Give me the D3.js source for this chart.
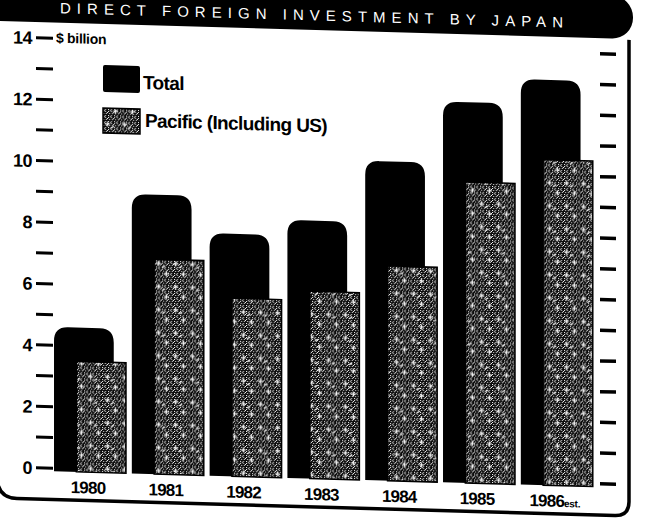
<!DOCTYPE html>
<html><head><meta charset="utf-8">
<script src="https://cdn.jsdelivr.net/npm/d3@7"></script>
<style>html,body{margin:0;padding:0;background:#fff;} svg{display:block}</style>
</head><body>
<svg id="chart" width="672" height="518"></svg>
<script>
// ---- data ----
const years = ["1980", "1981", "1982", "1983", "1984", "1985", "1986"];
const yearSuffix = ["", "", "", "", "", "", "est."];
const totalValues = [4.6, 9.0, 7.8, 8.3, 10.3, 12.3, 13.1];
const pacificValues = [3.5, 6.9, 5.7, 6.0, 6.9, 9.7, 10.5];
const yTickLabels = [0, 2, 4, 6, 8, 10, 12, 14];
const yMinorTicks = d3.range(0, 15, 1);
const titleText = "DIRECT FOREIGN INVESTMENT BY JAPAN";
const unitLabel = "$ billion";
const seriesNames = ["Total", "Pacific (Including US)"];

// ---- setup ----
const svg = d3.select("#chart");
const defs = svg.append("defs");
const pat = defs.append("pattern").attr("id", "stipple")
  .attr("patternUnits", "userSpaceOnUse").attr("width", 6).attr("height", 6);
pat.append("rect").attr("width", 6).attr("height", 6).attr("fill", "#0a0a0a");
[[0,0],[3,0],[1,2],[4,2],[0,4],[3,4],[2,5],[5,1]].forEach(([px,py]) =>
  pat.append("rect").attr("x", px).attr("y", py).attr("width", 1).attr("height", 1).attr("fill", "#fff"));
const pat2 = defs.append("pattern").attr("id", "crosses")
  .attr("patternUnits", "userSpaceOnUse").attr("width", 17).attr("height", 23);
pat2.append("path").attr("d", "M3,6h5M5.5,3.5v5M11,16h5M13.5,13.5v5M9,10l3,-2")
  .attr("stroke", "#fff").attr("stroke-width", 1.2).attr("fill", "none");

const g = svg.append("g").attr("transform", "skewY(1.63)");

const y = d3.scaleLinear().domain([0, 14]).range([466.7, 36.7]);
const x = d3.scaleBand().domain(years).range([51.1, 595.7])
  .paddingInner(0.075).paddingOuter(0.0375);
const bw = x.bandwidth();
const below = 3;

// banner
g.append("rect").attr("x", -40).attr("y", -22).attr("width", 673).attr("height", 43)
  .attr("rx", 21).attr("fill", "#000");
g.append("text").attr("x", 60).attr("y", 11.5).attr("fill", "#fff")
  .attr("font-family", "Liberation Sans, Arial, sans-serif").attr("font-size", 15)
  .attr("textLength", 503).attr("lengthAdjust", "spacing").text(titleText);

// frame
g.append("path")
  .attr("d", "M-3,476 Q-3,498 17,498 L615,498 Q629,498 629,484 L629,22")
  .attr("fill", "none").attr("stroke", "#000").attr("stroke-width", 3.5);

// left ticks
g.selectAll(".lt").data(yMinorTicks).join("line")
  .attr("x1", 36).attr("x2", 53).attr("y1", d => y(d)).attr("y2", d => y(d))
  .attr("stroke", "#000").attr("stroke-width", 3);
// right ticks
g.selectAll(".rt").data(yMinorTicks).join("line")
  .attr("x1", 600).attr("x2", 616).attr("y1", d => y(d)).attr("y2", d => y(d))
  .attr("stroke", "#000").attr("stroke-width", 3.5);
// y labels
g.selectAll(".yl").data(yTickLabels).join("text")
  .attr("x", 32).attr("y", d => y(d) + 6.5).attr("text-anchor", "end")
  .attr("font-family", "Liberation Sans, Arial, sans-serif").attr("font-weight", "bold")
  .attr("font-size", 18).attr("letter-spacing", -0.5).text(d => d);
g.append("text").attr("x", 56).attr("y", y(14) + 4.5)
  .attr("font-family", "Liberation Sans, Arial, sans-serif").attr("font-weight", "bold")
  .attr("font-size", 14).attr("letter-spacing", -0.3).text(unitLabel);

// total bars (rounded top)
const r = 14;
const tw = bw * 0.83;
g.selectAll(".tot").data(years).join("path")
  .attr("d", (d, i) => {
    const x0 = x(d), x1 = x0 + tw, yt = y(totalValues[i]), yb = y(0) + below;
    return `M${x0},${yb}V${yt + r}Q${x0},${yt} ${x0 + r},${yt}H${x1 - r}Q${x1},${yt} ${x1},${yt + r}V${yb}Z`;
  })
  .attr("fill", "#000");

// pacific bars
const po = bw * 0.31, pw = bw * 0.69;
g.selectAll(".pac").data(years).join("rect")
  .attr("x", d => x(d) + po).attr("width", pw)
  .attr("y", (d, i) => y(pacificValues[i]))
  .attr("height", (d, i) => y(0) + below - y(pacificValues[i]))
  .attr("fill", "url(#stipple)").attr("stroke", "#000").attr("stroke-width", 1.5);
g.selectAll(".pac2").data(years).join("rect")
  .attr("x", d => x(d) + po + 1).attr("width", pw - 2)
  .attr("y", (d, i) => y(pacificValues[i]) + 1)
  .attr("height", (d, i) => y(0) + below - y(pacificValues[i]) - 2)
  .attr("fill", "url(#crosses)");

// year labels
const yl = g.selectAll(".xl").data(years).join("text")
  .attr("x", d => x(d) + bw / 2 - 2).attr("y", 491).attr("text-anchor", "middle")
  .attr("font-family", "Liberation Sans, Arial, sans-serif").attr("font-weight", "bold")
  .attr("font-size", 17).attr("letter-spacing", -0.8);
yl.append("tspan").text(d => d);
yl.append("tspan").attr("font-size", 10).attr("letter-spacing", -0.3)
  .text((d, i) => yearSuffix[i]);

// legend
const lg = g.append("g");
lg.append("rect").attr("x", 103).attr("y", 62).attr("width", 37).attr("height", 27)
  .attr("rx", 2).attr("fill", "#000");
lg.append("rect").attr("x", 103).attr("y", 105).attr("width", 37).attr("height", 25)
  .attr("fill", "url(#stipple)").attr("stroke", "#000").attr("stroke-width", 1.5);
lg.append("rect").attr("x", 104).attr("y", 106).attr("width", 35).attr("height", 23)
  .attr("fill", "url(#crosses)");
lg.append("text").attr("x", 143).attr("y", 85)
  .attr("font-family", "Liberation Sans, Arial, sans-serif").attr("font-weight", "bold")
  .attr("font-size", 19).attr("letter-spacing", -0.6).text(seriesNames[0]);
lg.append("text").attr("x", 145).attr("y", 123)
  .attr("font-family", "Liberation Sans, Arial, sans-serif").attr("font-weight", "bold")
  .attr("font-size", 19).attr("letter-spacing", -0.6).text(seriesNames[1]);
</script>
</body></html>
